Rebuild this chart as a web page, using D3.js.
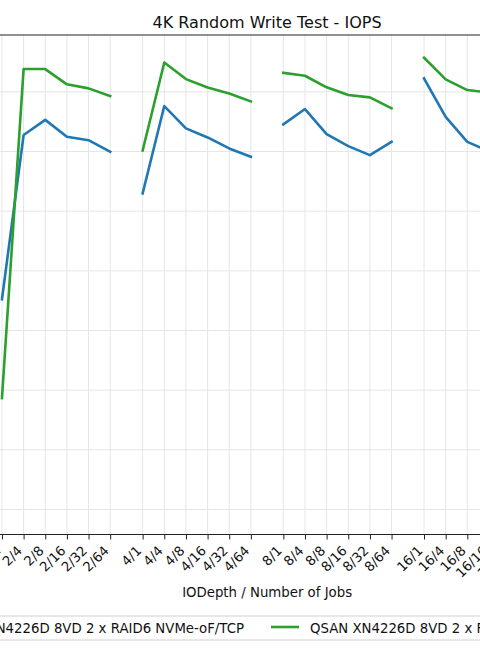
<!DOCTYPE html>
<html>
<head>
<meta charset="utf-8">
<script src="https://cdn.jsdelivr.net/npm/d3@7/dist/d3.min.js"></script>
<style>
  html, body { margin: 0; padding: 0; background: #fff; }
  svg { display: block; font-family: "DejaVu Sans", sans-serif; }
</style>
</head>
<body>
<svg id="chart" width="480" height="650"></svg>
<script>
// ---- data ----
const ioDepths = [1, 2, 4, 8, 16, 32];
const numJobs = [1, 4, 8, 16, 32, 64];
const categories = ioDepths.flatMap(d => numJobs.map(j => d + "/" + j));
const seriesNames = [
  "QSAN XN4226D 8VD 2 x RAID6 NVMe-oF/TCP",
  "QSAN XN4226D 8VD 2 x RAID6 NVMe-oF/RDMA"
];
// values in IOPS, aligned with categories (null = outside the visible picture)
const tcpIOPS = [
  null, null, null, null, null, null,
  176200, 313800, 326500, 312300, 309500, 299800,
  264900, 338100, 319400, 311800, 302600, 295600,
  322700, 335600, 314600, 304500, 297000, 308100,
  361300, 329100, 308100, 300300, null, null,
  null, null, null, null, null, null
];
const rdmaIOPS = [
  null, null, null, null, null, null,
  93400, 369100, 369100, 356300, 352900, 346500,
  300900, 374600, 360700, 353600, 348700, 342000,
  366000, 363500, 353800, 347300, 345400, 336200,
  378600, 360500, 351500, 349400, null, null,
  null, null, null, null, null, null
];
const yTicks = [0, 50000, 100000, 150000, 200000, 250000, 300000, 350000];
const colors = ["#1f77b4", "#2ca02c"];

// ---- layout ----
const svg = d3.select("#chart");
const plot = { left: -179.3, right: 713.5, top: 35, bottom: 534.5 };
const groupGap = 6.5;
const pos = (i) => Math.floor(i / numJobs.length) * groupGap + (i % numJobs.length);
const pMin = pos(0), pMax = pos(categories.length - 1);
const pad = (pMax - pMin) * 0.05;

const x = d3.scaleLinear().domain([pMin - pad, pMax + pad]).range([plot.left, plot.right]);
const y = d3.scaleLinear().domain([-20973, 397651]).range([plot.bottom, plot.top]);

const gridColor = "#e4e6e9";

// grid
const grid = svg.append("g");
grid.selectAll("line.v").data(categories).enter().append("line")
  .attr("x1", (d, i) => x(pos(i))).attr("x2", (d, i) => x(pos(i)))
  .attr("y1", plot.top).attr("y2", plot.bottom)
  .attr("stroke", gridColor).attr("stroke-width", 1);
grid.selectAll("line.h").data(yTicks).enter().append("line")
  .attr("x1", plot.left).attr("x2", plot.right)
  .attr("y1", d => y(d)).attr("y2", d => y(d))
  .attr("stroke", gridColor).attr("stroke-width", 1);

// lines, one path per IO depth group
const seriesList = [tcpIOPS, rdmaIOPS];
const line = d3.line()
  .defined(d => d.v != null)
  .x(d => x(pos(d.i)))
  .y(d => y(d.v));
seriesList.forEach((vals, s) => {
  ioDepths.forEach((dep, g) => {
    const pts = numJobs.map((j, k) => {
      const i = g * numJobs.length + k;
      return { i, v: vals[i] };
    });
    svg.append("path")
      .attr("d", line(pts))
      .attr("fill", "none")
      .attr("stroke", colors[s])
      .attr("stroke-width", 2.6)
      .attr("stroke-linejoin", "round")
      .attr("stroke-linecap", "square");
  });
});

// spines
svg.append("rect")
  .attr("x", plot.left).attr("y", plot.top)
  .attr("width", plot.right - plot.left).attr("height", plot.bottom - plot.top)
  .attr("fill", "none").attr("stroke", "#222").attr("stroke-width", 1);

// x axis
const xAxis = d3.axisBottom(x)
  .tickValues(categories.map((c, i) => pos(i)))
  .tickFormat((d, i) => categories[i])
  .tickSize(5).tickPadding(3);
const gx = svg.append("g").attr("transform", `translate(0,${plot.bottom})`).call(xAxis);
gx.select(".domain").remove();
gx.selectAll(".tick line").attr("stroke", "#222");
gx.selectAll(".tick text")
  .attr("font-size", "13.3px")
  .attr("font-family", "DejaVu Sans")
  .attr("fill", "#111")
  .attr("text-anchor", "end")
  .attr("x", 0).attr("y", 0).attr("dy", 0)
  .attr("transform", "translate(-1,17) rotate(-45)");

// y axis (left, outside visible area)
const yAxis = d3.axisLeft(y).tickValues(yTicks).tickFormat(d3.format(",")).tickSize(5);
const gy = svg.append("g").attr("transform", `translate(${plot.left},0)`).call(yAxis);
gy.select(".domain").remove();
gy.selectAll("text").attr("font-size", "13.3px").attr("font-family", "DejaVu Sans");

// title
svg.append("text")
  .attr("x", (plot.left + plot.right) / 2).attr("y", 28)
  .attr("text-anchor", "middle")
  .attr("font-size", "16px").attr("fill", "#111")
  .text("4K Random Write Test - IOPS");

// x label
svg.append("text")
  .attr("x", (plot.left + plot.right) / 2).attr("y", 597)
  .attr("text-anchor", "middle")
  .attr("font-size", "13.3px").attr("fill", "#111")
  .text("IODepth / Number of Jobs");

// legend
const legY = 628;
const legend = svg.append("g");
const fs = 13.3;
const handleLen = 28, handlePad = 11, colGap = 27;
const t2x = 310;
const h2x = t2x - handlePad - handleLen;
const tmp = legend.append("text").attr("font-size", fs + "px").text(seriesNames[0]);
const w1 = tmp.node().getComputedTextLength();
tmp.remove();
const t1end = h2x - colGap;
const t1x = t1end - w1;
const h1x = t1x - handlePad - handleLen;
const tmp2 = legend.append("text").attr("font-size", fs + "px").text(seriesNames[1]);
const w2 = tmp2.node().getComputedTextLength();
tmp2.remove();
legend.append("rect")
  .attr("x", h1x - 8).attr("y", 616)
  .attr("width", (t2x + w2 + 8) - (h1x - 8)).attr("height", 24)
  .attr("rx", 3)
  .attr("fill", "#fff").attr("fill-opacity", 0.8)
  .attr("stroke", "#d0d0d0").attr("stroke-width", 1);
[[h1x, t1x], [h2x, t2x]].forEach(([hx, tx], s) => {
  legend.append("line")
    .attr("x1", hx).attr("x2", hx + handleLen)
    .attr("y1", legY - 1).attr("y2", legY - 1)
    .attr("stroke", colors[s]).attr("stroke-width", 2.6);
  legend.append("text")
    .attr("x", tx).attr("y", legY + 4.5)
    .attr("font-size", fs + "px").attr("fill", "#111")
    .text(seriesNames[s]);
});
</script>
</body>
</html>
